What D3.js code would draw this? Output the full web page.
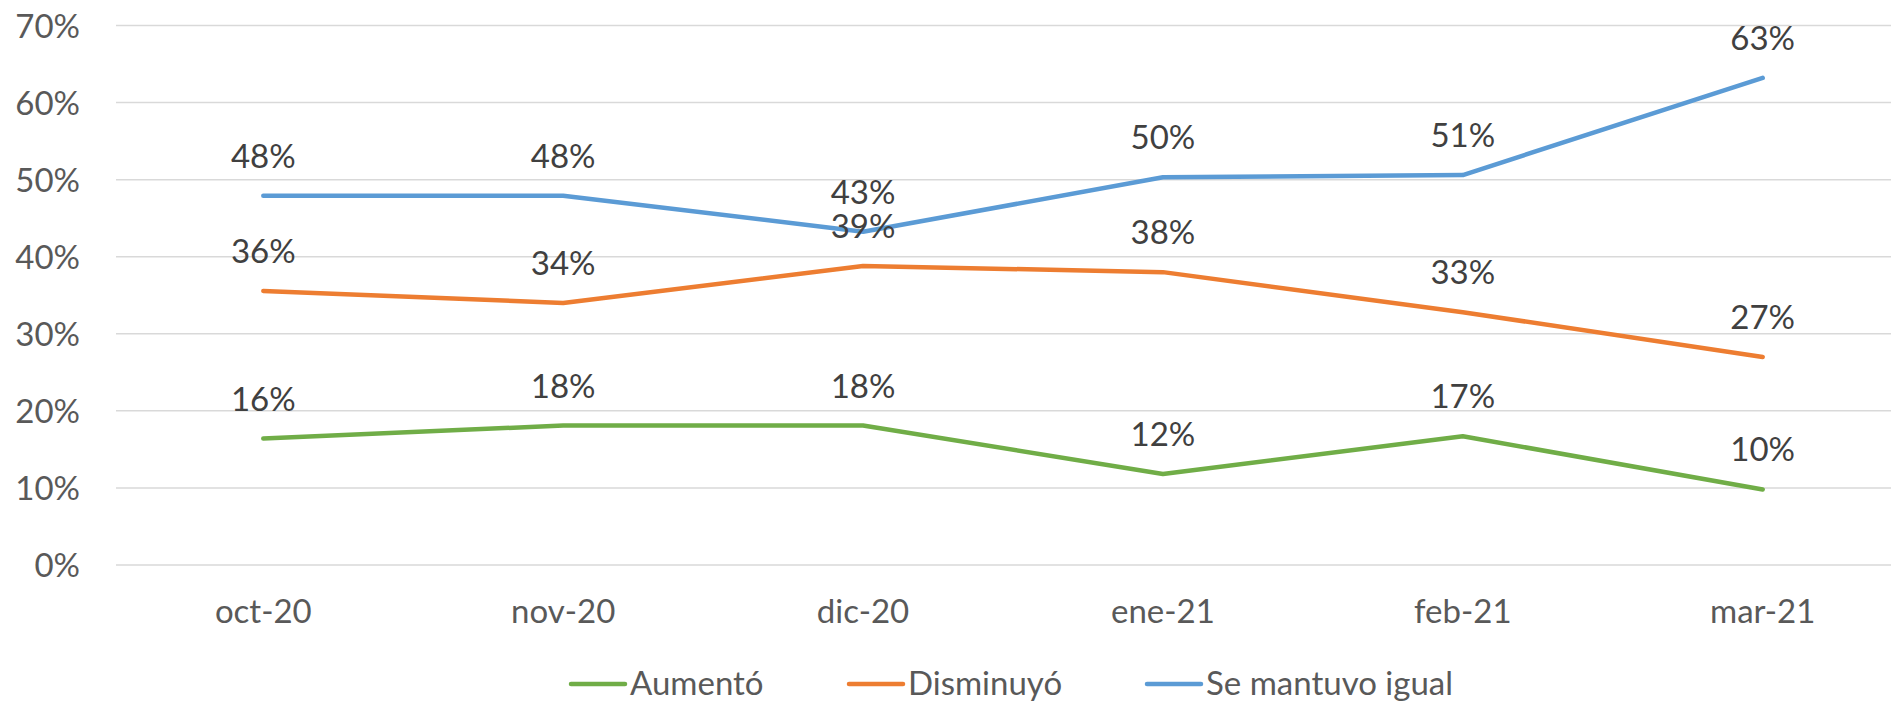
<!DOCTYPE html>
<html>
<head>
<meta charset="utf-8">
<style>
    body { margin: 0; background: #fff; }
    text { font-family: Lato, "Open Sans", sans-serif; }
</style>
</head>
<body>
    <div id="chart"></div>
    <script src="https://cdn.jsdelivr.net/npm/d3@7"></script>
    <script>
        var width = 1891,
            height = 701;

        var months = ['oct-20', 'nov-20', 'dic-20', 'ene-21', 'feb-21', 'mar-21'];
        var seriesNames = ['Aumentó', 'Disminuyó', 'Se mantuvo igual'];
        var aumento = [0.164, 0.181, 0.181, 0.118, 0.167, 0.098];
        var disminuyo = [0.3555, 0.340, 0.388, 0.380, 0.328, 0.270];
        var igual = [0.479, 0.479, 0.4325, 0.503, 0.506, 0.632];
        var yTicks = [0, 0.1, 0.2, 0.3, 0.4, 0.5, 0.6, 0.7];

        var colors = ['#70AD47', '#ED7D31', '#5B9BD5'];
        var series = [aumento, disminuyo, igual];

        var svg = d3.select('#chart')
            .append('svg')
            .attr('width', width)
            .attr('height', height);

        var x = d3.scalePoint()
            .domain(months)
            .range([263.3, 1762.7]);

        var y = d3.scaleLinear()
            .domain([0, 0.7])
            .range([565, 25.5]);

        var fmt = d3.format('.0%');

        // gridlines + y labels
        svg.append('g')
            .selectAll('line')
            .data(yTicks)
            .enter().append('line')
            .attr('x1', 116)
            .attr('x2', width)
            .attr('y1', function(d){ return y(d); })
            .attr('y2', function(d){ return y(d); })
            .attr('stroke', '#D9D9D9')
            .attr('stroke-width', 1.5);

        svg.append('g')
            .selectAll('text')
            .data(yTicks)
            .enter().append('text')
            .attr('x', 80)
            .attr('y', function(d){ return y(d) + 12; })
            .attr('text-anchor', 'end')
            .attr('font-size', 33)
            .attr('fill', '#595959')
            .text(function(d){ return fmt(d); });

        // x labels
        svg.append('g')
            .selectAll('text')
            .data(months)
            .enter().append('text')
            .attr('x', function(d){ return x(d); })
            .attr('y', 623)
            .attr('text-anchor', 'middle')
            .attr('font-size', 33)
            .attr('fill', '#595959')
            .text(function(d){ return d; });

        var line = d3.line()
            .x(function(d, i){ return x(months[i]); })
            .y(function(d){ return y(d); });

        svg.append('g')
            .selectAll('path')
            .data(series)
            .enter().append('path')
            .attr('d', line)
            .attr('fill', 'none')
            .attr('stroke', function(d, i){ return colors[i]; })
            .attr('stroke-width', 4.5)
            .attr('stroke-linecap', 'round')
            .attr('stroke-linejoin', 'round');

        // data labels on top of all lines
        series.forEach(function(s){
            svg.append('g')
                .selectAll('text')
                .data(s)
                .enter().append('text')
                .attr('x', function(d, i){ return x(months[i]); })
                .attr('y', function(d){ return y(d) - 28; })
                .attr('text-anchor', 'middle')
                .attr('font-size', 33)
                .attr('fill', '#404040')
                .text(function(d){ return fmt(d); });
        });

        // legend
        var legendX = [571, 849, 1147];
        var leg = svg.append('g')
            .selectAll('g')
            .data(seriesNames)
            .enter().append('g')
            .attr('transform', function(d, i){ return 'translate(' + legendX[i] + ',684)'; });

        leg.append('line')
            .attr('x1', 0)
            .attr('x2', 54)
            .attr('stroke', function(d, i){ return colors[i]; })
            .attr('stroke-width', 4.5)
            .attr('stroke-linecap', 'round');

        leg.append('text')
            .attr('x', 59)
            .attr('y', 11)
            .attr('font-size', 33)
            .attr('fill', '#595959')
            .text(function(d){ return d; });
    </script>
</body>
</html>
